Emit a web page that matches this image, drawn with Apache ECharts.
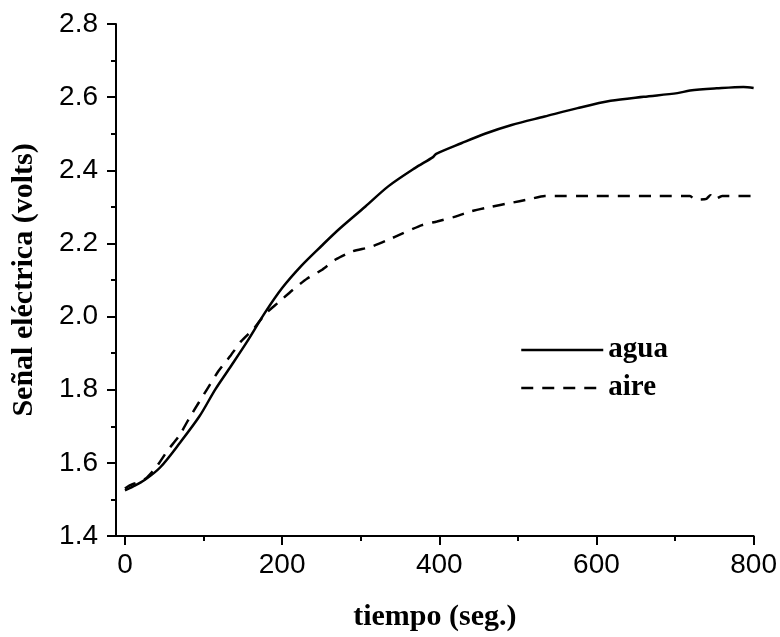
<!DOCTYPE html>
<html>
<head>
<meta charset="utf-8">
<script src="https://cdn.jsdelivr.net/npm/echarts@6/dist/echarts.min.js"></script>
<style>
  html, body { margin: 0; padding: 0; background: #fff; }
  #chart { width: 780px; height: 637px; }
</style>
</head>
<body>
<div id="chart"></div>
<script>
// tiempo (seg.) / señal (volts)
var tAgua = [0, 10, 25, 45, 70, 95, 115, 135, 155, 178, 200, 225, 250, 272, 306, 335, 369, 392, 396, 428, 458, 492, 534, 576, 618, 660, 703, 719, 753, 787, 800];
var vAgua = [1.525, 1.535, 1.553, 1.588, 1.655, 1.728, 1.801, 1.865, 1.930, 2.010, 2.078, 2.140, 2.193, 2.238, 2.301, 2.356, 2.406, 2.436, 2.445, 2.474, 2.500, 2.524, 2.547, 2.570, 2.590, 2.601, 2.611, 2.618, 2.624, 2.628, 2.625];

var tAire = [0, 5, 27, 41, 54, 69, 81, 94, 107, 119, 134, 148, 164, 178, 195, 213, 232, 251, 268, 289, 312, 333, 354, 378, 397, 418, 441, 466, 489, 515, 534, 600, 680, 719, 724, 730, 740, 745, 750, 760, 787, 800];
var vAire = [1.530, 1.537, 1.558, 1.592, 1.633, 1.674, 1.719, 1.765, 1.810, 1.851, 1.892, 1.933, 1.967, 2.006, 2.038, 2.072, 2.104, 2.128, 2.156, 2.178, 2.190, 2.208, 2.228, 2.250, 2.260, 2.272, 2.288, 2.300, 2.310, 2.321, 2.330, 2.330, 2.330, 2.330, 2.322, 2.320, 2.322, 2.332, 2.320, 2.330, 2.330, 2.330];

var xTicks = [0, 200, 400, 600, 800];
var xMinorTicks = [100, 300, 500, 700];

function pairs(xs, ys) {
  return xs.map(function (x, i) { return [x, ys[i]]; });
}

var chart = echarts.init(document.getElementById('chart'));
var black = '#000';

chart.setOption({
  animation: false,
  backgroundColor: '#fff',
  grid: { left: 116, right: 25, top: 24, bottom: 100 },
  legend: {
    left: 515,
    top: 330,
    orient: 'vertical',
    itemWidth: 82,
    itemHeight: 14,
    itemGap: 8,
    itemStyle: { opacity: 0 },
    lineStyle: { width: 2.5 },
    textStyle: {
      fontFamily: 'Liberation Serif',
      fontWeight: 'bold',
      fontSize: 29,
      color: black,
      lineHeight: 30
    },
    data: ['agua', 'aire']
  },
  xAxis: [{
    type: 'value',
    min: -11.4,
    max: 800,
    name: 'tiempo (seg.)',
    nameLocation: 'middle',
    nameGap: 66,
    nameTextStyle: { fontFamily: 'Liberation Serif', fontWeight: 'bold', fontSize: 30, color: black },
    axisLine: { onZero: false, lineStyle: { color: black, width: 2 } },
    axisTick: { customValues: xTicks, length: 9, lineStyle: { color: black, width: 2 } },
    axisLabel: { customValues: xTicks, margin: 15, fontFamily: 'Liberation Sans', fontSize: 28, color: black },
    splitLine: { show: false }
  }, {
    type: 'value',
    min: -11.4,
    max: 800,
    position: 'bottom',
    axisLine: { show: false, onZero: false },
    axisTick: { customValues: xMinorTicks, length: 5, lineStyle: { color: black, width: 2 } },
    axisLabel: { show: false },
    splitLine: { show: false }
  }],
  yAxis: {
    type: 'value',
    min: 1.4,
    max: 2.8,
    interval: 0.2,
    name: 'Señal eléctrica (volts)',
    nameLocation: 'middle',
    nameGap: 77,
    nameTextStyle: { fontFamily: 'Liberation Serif', fontWeight: 'bold', fontSize: 30, color: black },
    axisLine: { show: true, onZero: false, lineStyle: { color: black, width: 2 } },
    axisTick: { show: true, length: 9, lineStyle: { color: black, width: 2 } },
    minorTick: { show: true, splitNumber: 2, length: 5, lineStyle: { color: black, width: 2 } },
    axisLabel: {
      margin: 18,
      fontFamily: 'Liberation Sans',
      fontSize: 28,
      color: black,
      formatter: function (v) { return v.toFixed(1); }
    },
    splitLine: { show: false },
    minorSplitLine: { show: false }
  },
  series: [{
    name: 'agua',
    type: 'line',
    xAxisIndex: 0,
    data: pairs(tAgua, vAgua),
    smooth: 0.3,
    showSymbol: false,
    symbol: 'none',
    color: black,
    lineStyle: { color: black, width: 2.5 }
  }, {
    name: 'aire',
    type: 'line',
    xAxisIndex: 0,
    data: pairs(tAire, vAire),
    smooth: 0.2,
    showSymbol: false,
    symbol: 'none',
    color: black,
    lineStyle: { color: black, width: 2.5, type: [12, 9] }
  }]
});
</script>
</body>
</html>
